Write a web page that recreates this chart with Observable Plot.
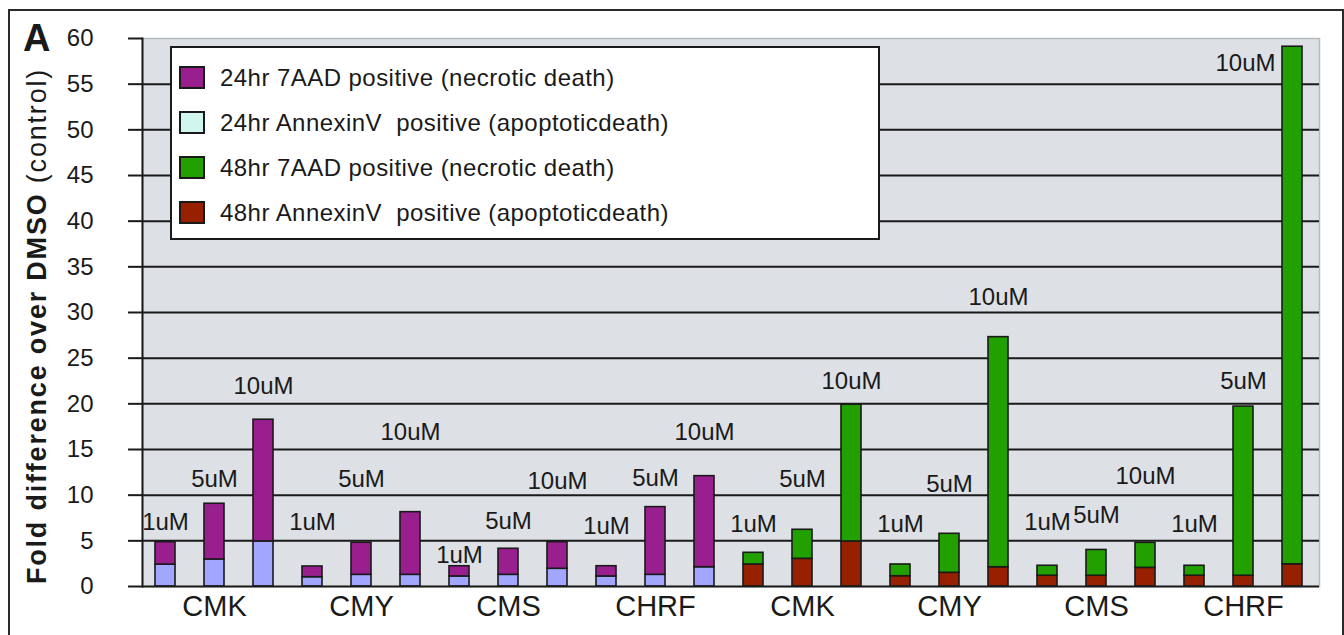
<!DOCTYPE html>
<html>
<head>
<meta charset="utf-8">
<script src="https://cdn.jsdelivr.net/npm/d3@7"></script>
<script src="https://cdn.jsdelivr.net/npm/@observablehq/plot@0.6"></script>
<style>
  html, body { margin: 0; padding: 0; background: #fff; }
  #wrap { position: relative; width: 1344px; height: 635px; overflow: hidden; font-family: "Liberation Sans", Arial, sans-serif; color: #1a1a1a; }
  #wrap svg { position: absolute; left: 0; top: 0; }
  #outer { position: absolute; left: 8px; top: 9px; width: 1332px; height: 640px; border: 2px solid #2a2a2a; pointer-events: none; }
  #ytitle { position: absolute; left: 37px; top: 326px; transform: translate(-50%, -50%) rotate(-90deg); white-space: nowrap; font-size: 27px; letter-spacing: 1.8px; line-height: 1; }
  #ytitle b { font-weight: bold; }
  #letter { position: absolute; left: 23px; top: 19px; font-size: 38px; font-weight: bold; line-height: 1; }
  #legend { position: absolute; left: 170px; top: 46px; width: 706px; height: 183px; border: 2px solid #1a1a1a; background: #fff; padding-top: 7px; box-sizing: content-box; }
  .lrow { height: 45px; display: flex; align-items: center; font-size: 24px; letter-spacing: 0.45px; white-space: pre; }
  .sw { width: 22px; height: 19px; border: 2px solid #1a1a1a; margin-left: 7px; margin-right: 15px; flex: none; }
</style>
</head>
<body>
<div id="wrap">
  <div id="letter">A</div>
  <div id="ytitle"><b>Fold difference over DMSO</b> (control)</div>
  <div id="legend"></div>
  <div id="outer"></div>
</div>
<script>
// ---- data ----
const timepoints = ["24hr", "48hr"];
const cellLines = ["CMK", "CMY", "CMS", "CHRF"];
const doses = ["1uM", "5uM", "10uM"];

// order within each timepoint: CMK 1/5/10, CMY 1/5/10, CMS 1/5/10, CHRF 1/5/10
const annexin24 = [2.40, 2.96, 4.93, 1.02, 1.28, 1.28, 1.10, 1.28, 1.94, 1.10, 1.28, 2.11];
const aad24     = [2.45, 6.10, 13.33, 1.17, 3.51, 6.86, 1.12, 2.85, 2.91, 1.12, 7.41, 9.97];
const annexin48 = [2.41, 3.03, 4.93, 1.13, 1.50, 2.11, 1.18, 1.18, 2.04, 1.18, 1.18, 2.43];
const aad48     = [1.28, 3.18, 14.97, 1.28, 4.27, 25.19, 1.09, 2.82, 2.74, 1.09, 18.52, 56.67];

// height (in fold units) at which each dose label sits
const label24 = [7.04, 11.75, 21.95, 7.04, 11.75, 16.83, 3.40, 7.15, 11.53, 6.60, 11.90, 16.83];
const label48 = [6.79, 11.70, 22.50, 6.82, 11.17, 31.70, 6.98, 7.84, 12.08, 6.78, 22.50, 57.25];

const yTicks = [0, 5, 10, 15, 20, 25, 30, 35, 40, 45, 50, 55, 60];
const gridTicks = [5, 10, 15, 20, 25, 30, 35, 40, 45, 50, 55];

const seriesLabels = [
  "24hr 7AAD positive (necrotic death)",
  "24hr AnnexinV  positive (apoptoticdeath)",
  "48hr 7AAD positive (necrotic death)",
  "48hr AnnexinV  positive (apoptoticdeath)"
];
const seriesKeys = ["24hr 7AAD", "24hr AnnexinV", "48hr 7AAD", "48hr AnnexinV"];
const barColors = ["#9a1f8e", "#a2a6fe", "#22a000", "#962000"];
const legendColors = ["#9a1f8e", "#d0f6ee", "#22a000", "#962000"];

// ---- build table ----
const series = {"24hr": [annexin24, aad24], "48hr": [annexin48, aad48]};
const labels = {"24hr": label24, "48hr": label48};
const rows = [], labelRows = [], ids = [];
for (const t of timepoints) {
  cellLines.forEach((c, ci) => {
    doses.forEach((d, di) => {
      const k = ci * 3 + di;
      const id = `${t}|${c}|${d}`;
      ids.push(id);
      const [ann, aad] = series[t];
      rows.push({id, cell: c, dose: d, series: `${t} AnnexinV`, value: ann[k]});
      rows.push({id, cell: c, dose: d, series: `${t} 7AAD`, value: aad[k]});
      labelRows.push({id, dose: d, cell: c, y: labels[t][k], total: ann[k] + aad[k]});
    });
  });
}
const cellOf = new Map(labelRows.map(r => [r.id, r]));
const above = labelRows.filter(r => r.y > r.total);
const beside = labelRows.filter(r => r.y <= r.total);

const ink = "#1a1a1a";
const chart = Plot.plot({
  width: 1344,
  height: 635,
  marginLeft: 142,
  marginRight: 25,
  marginTop: 38,
  marginBottom: 49,
  style: {fontFamily: "'Liberation Sans', Arial, sans-serif", fontSize: "24px", color: ink, background: "transparent"},
  x: {domain: ids, paddingInner: 0.6, paddingOuter: 0.3, align: 0.43, label: null},
  y: {domain: [0, 60], label: null},
  color: {domain: seriesKeys, range: barColors},
  marks: [
    Plot.frame({fill: "#dde0e4", stroke: "#b6bbc0", strokeWidth: 1.5}),
    Plot.ruleY(gridTicks, {stroke: ink, strokeWidth: 2}),
    Plot.frame({anchor: "left", stroke: ink, strokeWidth: 2}),
    Plot.axisY({ticks: yTicks, tickSize: 14, tickPadding: 35, tickFormat: d => String(d), stroke: ink, strokeWidth: 2, strokeOpacity: 1, fill: ink, fontSize: 24}),
    Plot.axisX({tickSize: 0, tickPadding: 9, fontSize: 29, fill: ink,
      tickFormat: id => cellOf.get(id).dose === "5uM" ? cellOf.get(id).cell : ""}),
    Plot.barY(rows, {x: "id", y: "value", fill: "series", stroke: ink, strokeWidth: 1.6}),
    Plot.ruleY([0], {stroke: ink, strokeWidth: 2}),
    Plot.text(above, {x: "id", y: "y", text: "dose", fontSize: 24, fill: ink, lineAnchor: "middle"}),
    Plot.text(beside, {x: "id", y: "y", text: "dose", fontSize: 24, fill: ink, lineAnchor: "middle", textAnchor: "end", dx: -17})
  ]
});
document.getElementById("wrap").insertBefore(chart, document.getElementById("letter"));

// legend
const leg = document.getElementById("legend");
seriesLabels.forEach((lab, i) => {
  const row = document.createElement("div");
  row.className = "lrow";
  const sw = document.createElement("div");
  sw.className = "sw";
  sw.style.background = legendColors[i];
  const tx = document.createElement("span");
  tx.textContent = lab;
  row.appendChild(sw);
  row.appendChild(tx);
  leg.appendChild(row);
});
</script>
</body>
</html>
